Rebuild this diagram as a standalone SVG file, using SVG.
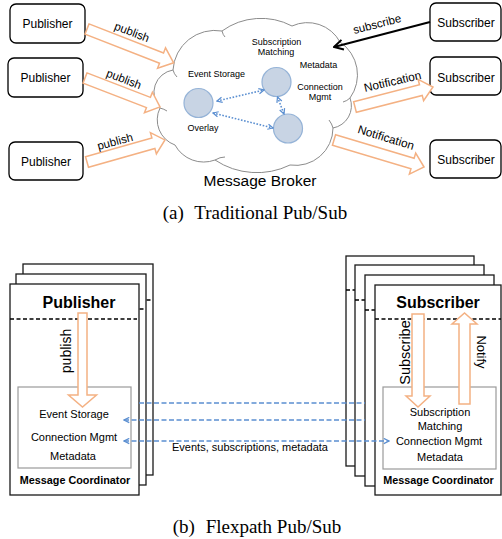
<svg xmlns="http://www.w3.org/2000/svg" width="502" height="539" viewBox="0 0 502 539">
  <style>
    .sans { font-family: "Liberation Sans", Arial, sans-serif; fill: #000; }
    .serif { font-family: "Liberation Serif", "Times New Roman", serif; fill: #000; }
    .box { fill: #fff; stroke: #000; stroke-width: 1.3; }
    .card { fill: #fff; stroke: #1a1a1a; stroke-width: 1.3; }
    .inner { fill: #fff; stroke: #9a9a9a; stroke-width: 1.2; }
    .blk { fill: #fff; stroke: #f4b183; stroke-width: 1.5; stroke-linejoin: miter; }
    .cloud { fill: #fff; stroke: #8c8c8c; stroke-width: 1; }
    .hook { fill: none; stroke: #8c8c8c; stroke-width: 1; }
    .node { fill: #c8d4e4; stroke: #95b3d7; stroke-width: 1.2; }
    .dot { fill: none; stroke: #5b8fd1; stroke-width: 1.6; stroke-dasharray: 1.6 1.6; }
    .dash { fill: none; stroke: #5b8fd1; stroke-width: 1.6; stroke-dasharray: 5 2.5; }
    .sep { fill: none; stroke: #000; stroke-width: 1.4; stroke-dasharray: 4 2.5; }
    .t9 { font-size: 9px; text-anchor: middle; }
    .t11 { font-size: 11px; text-anchor: middle; }
    .t12 { font-size: 12px; text-anchor: middle; }
    .bold { font-weight: bold; text-anchor: middle; }
  </style>
  <defs>
    <marker id="chev" viewBox="0 0 8 8" refX="7" refY="4" markerWidth="7" markerHeight="7" markerUnits="userSpaceOnUse" orient="auto-start-reverse">
      <path d="M1,1 L7,4 L1,7" fill="none" stroke="#5b8fd1" stroke-width="1.4"/>
    </marker>
    <marker id="blackhead" viewBox="0 0 12 12" refX="11" refY="6" markerWidth="12" markerHeight="12" markerUnits="userSpaceOnUse" orient="auto">
      <path d="M2,1 L11,6 L2,11" fill="none" stroke="#000" stroke-width="2"/>
    </marker>
  </defs>

  <!-- ===== (a) Traditional Pub/Sub ===== -->

  <!-- Message broker cloud -->
  <g id="broker">
    <path class="cloud" d="M173,70 A42,42 0 0 1 222,31 A66.6,66.6 0 0 1 292,26 A37,37 0 0 1 340,42 A39.6,39.6 0 0 1 350,98 A22.5,22.5 0 0 1 333,128 A37.5,37.5 0 0 1 290,165 A75.7,75.7 0 0 1 215,160 A32.6,32.6 0 0 1 175,145 A26.7,26.7 0 0 1 160,108 A22.8,22.8 0 0 1 173,70 Z"/>
    <path class="hook" d="M173,70 q1,4 4,7"/>
    <path class="hook" d="M222,31 q1,4 3,6"/>
    <path class="hook" d="M350,98 q-3,3 -7,4"/>
    <path class="hook" d="M333,128 q-1,-4 -4,-8"/>
    <path class="hook" d="M215,160 q5,-3 10,-3"/>
    <path class="hook" d="M160,108 q4,1 7,3"/>
    <text class="sans t9" x="216.5" y="77">Event Storage</text>
    <text class="sans t9" x="203" y="131">Overlay</text>
    <text class="sans t9" x="276.5" y="45">Subscription</text>
    <text class="sans t9" x="276" y="55">Matching</text>
    <text class="sans t9" x="318.5" y="68">Metadata</text>
    <text class="sans t9" x="320" y="90">Connection</text>
    <text class="sans t9" x="320" y="100">Mgmt</text>
    <text class="sans" x="260" y="186" font-size="15.5" text-anchor="middle">Message Broker</text>
  </g>

  <!-- Overlay nodes -->
  <g id="overlay-node-1"><circle class="node" cx="198.5" cy="103" r="14.5"/></g>
  <g id="overlay-node-2"><circle class="node" cx="276.5" cy="82" r="14.5"/></g>
  <g id="overlay-node-3"><circle class="node" cx="288" cy="128.5" r="14.5"/></g>

  <!-- Publishers -->
  <g id="publisher-1">
    <rect class="box" x="10" y="4" width="75" height="39" rx="6"/>
    <text class="sans t12" x="47.5" y="28">Publisher</text>
  </g>
  <g id="publisher-2">
    <rect class="box" x="8" y="58" width="75" height="39" rx="6"/>
    <text class="sans t12" x="45.5" y="82">Publisher</text>
  </g>
  <g id="publisher-3">
    <rect class="box" x="9" y="142" width="74" height="38" rx="6"/>
    <text class="sans t12" x="46" y="166">Publisher</text>
  </g>

  <!-- Subscribers -->
  <g id="subscriber-1">
    <rect class="box" x="430" y="3" width="71" height="38" rx="6"/>
    <text class="sans t12" x="466" y="27">Subscriber</text>
  </g>
  <g id="subscriber-2">
    <rect class="box" x="430" y="57" width="71" height="38" rx="6"/>
    <text class="sans t12" x="466" y="82">Subscriber</text>
  </g>
  <g id="subscriber-3">
    <rect class="box" x="430" y="140" width="71" height="38" rx="6"/>
    <text class="sans t12" x="466" y="163.5">Subscriber</text>
  </g>

  <!-- Connectors of the broker view -->
  <g id="connectors-a">
    <!-- publish block arrows -->
    <path class="blk" transform="translate(87,29) rotate(21.3)" d="M0,-5.5 L80,-5.5 L80,-11 L93,0 L80,11 L80,5.5 L0,5.5 Z"/>
    <path class="blk" transform="translate(85,78) rotate(21.1)" d="M0,-5.5 L68,-5.5 L68,-11 L80.4,0 L68,11 L68,5.5 L0,5.5 Z"/>
    <path class="blk" transform="translate(87,162) rotate(-15.8)" d="M0,-5.5 L69,-5.5 L69,-11 L81,0 L69,11 L69,5.5 L0,5.5 Z"/>
    <!-- notification block arrows -->
    <path class="blk" transform="translate(355,107) rotate(-14.4)" d="M0,-5.5 L68,-5.5 L68,-11 L80.5,0 L68,11 L68,5.5 L0,5.5 Z"/>
    <path class="blk" transform="translate(334,140) rotate(16.7)" d="M0,-5.5 L82,-5.5 L82,-11 L94,0 L82,11 L82,5.5 L0,5.5 Z"/>
    <!-- subscribe -->
    <line x1="430" y1="22" x2="334" y2="47" stroke="#000" stroke-width="2" marker-end="url(#blackhead)"/>
    <!-- overlay links -->
    <line class="dot" x1="217" y1="101" x2="264" y2="90" marker-start="url(#chev)" marker-end="url(#chev)"/>
    <line class="dot" x1="213" y1="113" x2="273" y2="128" marker-start="url(#chev)" marker-end="url(#chev)"/>
    <line class="dot" x1="277.5" y1="97" x2="284" y2="114" marker-start="url(#chev)" marker-end="url(#chev)"/>
    <!-- labels -->
    <text class="sans" font-size="11.5" text-anchor="middle" transform="translate(132,32) rotate(21)" y="4">publish</text>
    <text class="sans" font-size="11.5" text-anchor="middle" transform="translate(124,79) rotate(21)" y="4">publish</text>
    <text class="sans" font-size="11.5" text-anchor="middle" transform="translate(115,141.5) rotate(-15)" y="4">publish</text>
    <text class="sans" font-size="11.5" text-anchor="middle" transform="translate(377,24) rotate(-14.5)" y="4">subscribe</text>
    <text class="sans" font-size="11.8" text-anchor="middle" transform="translate(392.5,81.5) rotate(-13)" y="4">Notification</text>
    <text class="sans" font-size="11.8" text-anchor="middle" transform="translate(386,137.5) rotate(17)" y="4">Notification</text>
  </g>

  <text class="serif" x="255" y="219" font-size="19" text-anchor="middle">(a)<tspan dx="6"> Traditional Pub/Sub</tspan></text>

  <!-- ===== (b) Flexpath Pub/Sub ===== -->

  <!-- Publisher stack -->
  <g id="publisher-stack-back">
    <rect class="card" x="23" y="264" width="130" height="211"/>
    <line class="sep" x1="23" y1="300" x2="153" y2="300"/>
  </g>
  <g id="publisher-stack-middle">
    <rect class="card" x="16" y="274" width="130" height="211"/>
    <line class="sep" x1="16" y1="309" x2="146" y2="309"/>
  </g>

  <!-- Subscriber stack -->
  <g id="subscriber-stack-4">
    <rect class="card" x="346" y="256" width="128" height="210"/>
    <line class="sep" x1="346" y1="290" x2="474" y2="290"/>
  </g>
  <g id="subscriber-stack-3">
    <rect class="card" x="355" y="265" width="129" height="211"/>
    <line class="sep" x1="355" y1="300" x2="484" y2="300"/>
  </g>
  <g id="subscriber-stack-2">
    <rect class="card" x="365" y="275" width="129" height="211"/>
    <line class="sep" x1="365" y1="310" x2="494" y2="310"/>
  </g>

  <g id="publisher-front">
    <rect class="card" x="10" y="284" width="129" height="211"/>
    <line class="sep" x1="10" y1="319" x2="137" y2="319"/>
    <text class="sans bold" x="79" y="308" font-size="16">Publisher</text>
    <rect class="inner" x="18" y="387" width="113" height="81"/>
    <text class="sans t11" x="74" y="418">Event Storage</text>
    <text class="sans t11" x="74" y="441">Connection Mgmt</text>
    <text class="sans t11" x="73" y="460">Metadata</text>
    <text class="sans bold" x="75" y="484" font-size="10.8">Message Coordinator</text>
    <path class="blk" d="M78,313 H87 V395 H96.5 L82.5,407 L68.5,395 H78 Z"/>
    <text class="sans" font-size="14" text-anchor="middle" transform="translate(71,351) rotate(-90)">publish</text>
  </g>

  <g id="subscriber-front">
    <rect class="card" x="375" y="285" width="126" height="210"/>
    <line class="sep" x1="375" y1="319" x2="501" y2="319"/>
    <text class="sans bold" x="438" y="308" font-size="16">Subscriber</text>
    <rect class="inner" x="383" y="387" width="113" height="82"/>
    <text class="sans t11" x="440" y="416">Subscription</text>
    <text class="sans t11" x="440" y="430">Matching</text>
    <text class="sans t11" x="439" y="445">Connection Mgmt</text>
    <text class="sans t11" x="440" y="461">Metadata</text>
    <text class="sans bold" x="438.5" y="484" font-size="10.8">Message Coordinator</text>
    <path class="blk" d="M412,314 H424 V396 H430 L418,407 L406,396 H412 Z"/>
    <path class="blk" d="M459,404 H470 V324 H477 L464.5,313 L452,324 H459 Z"/>
    <text class="sans" font-size="14.5" text-anchor="middle" transform="translate(410,352.5) rotate(-90)">Subscribe</text>
    <text class="sans" font-size="13" text-anchor="middle" transform="translate(477,352) rotate(90)">Notify</text>
  </g>

  <!-- Links between coordinators, drawn over the cards -->
  <g id="connectors-b">
    <line class="dash" x1="139" y1="403" x2="365" y2="403"/>
    <line class="dash" x1="124" y1="420" x2="365" y2="420" marker-start="url(#chev)"/>
    <line class="dash" x1="124" y1="441" x2="389" y2="441" marker-start="url(#chev)" marker-end="url(#chev)"/>
    <text class="sans t11" x="250" y="451">Events, subscriptions, metadata</text>
  </g>

  <text class="serif" x="257" y="533" font-size="19" text-anchor="middle">(b)<tspan dx="6"> Flexpath Pub/Sub</tspan></text>
</svg>
